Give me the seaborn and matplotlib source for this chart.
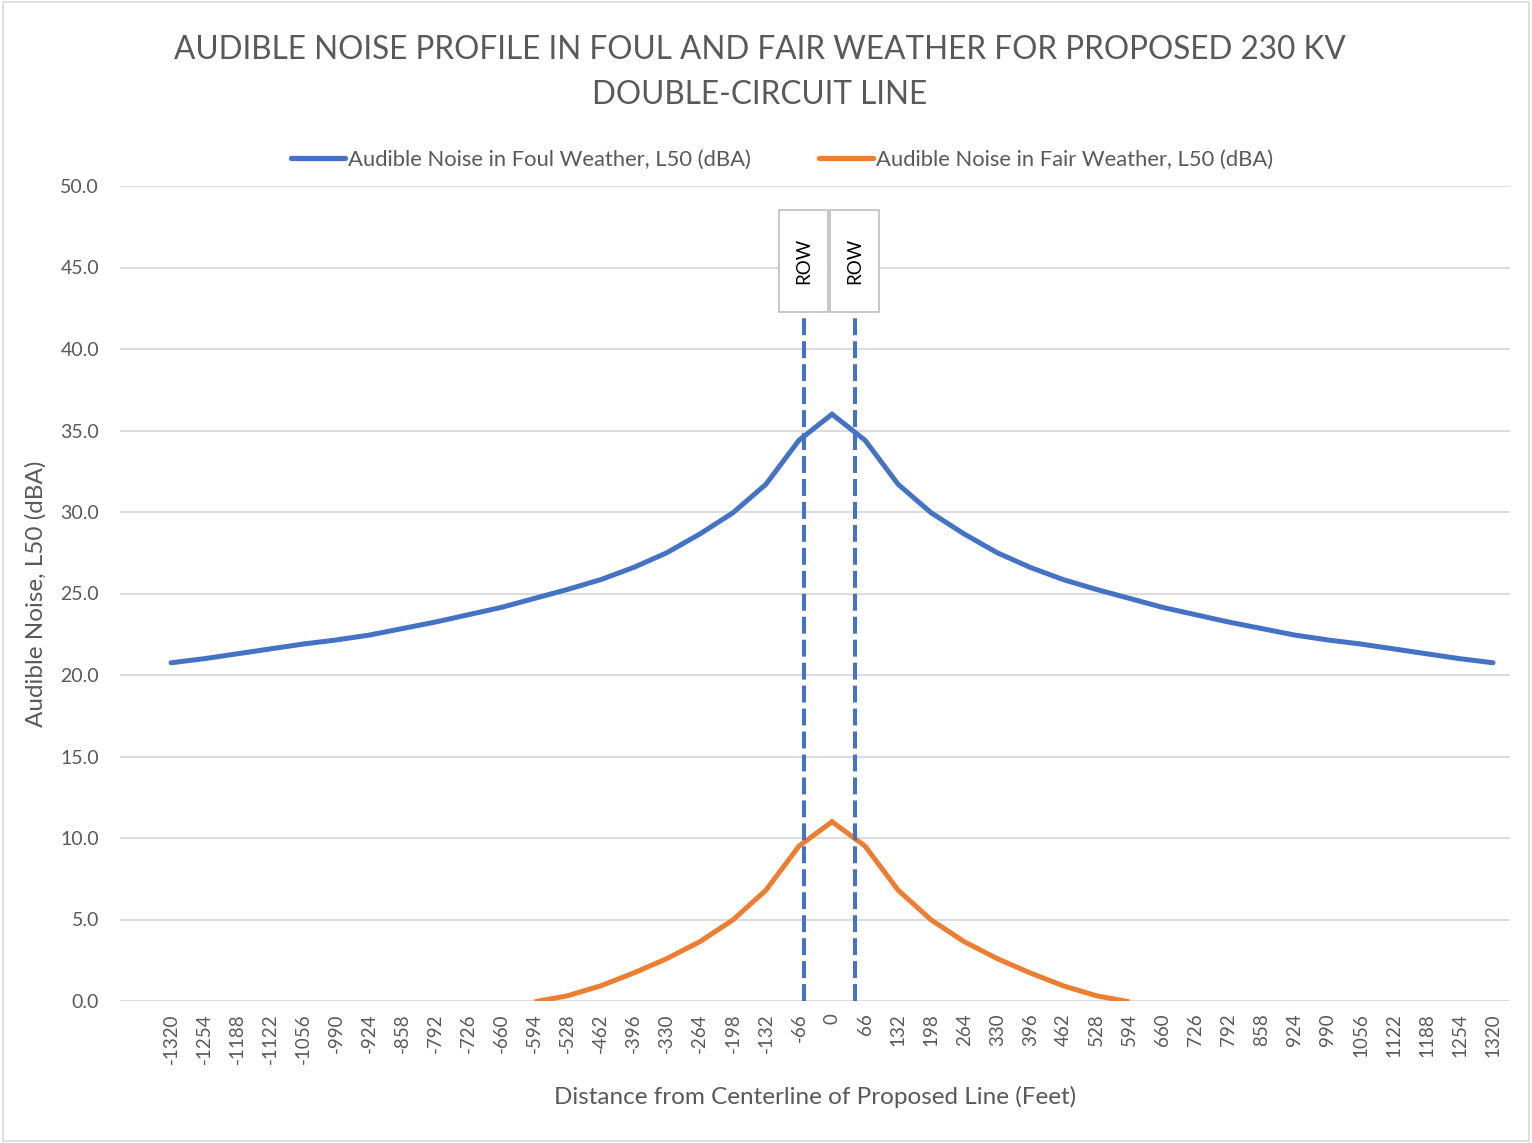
import numpy as np
import pandas as pd
import matplotlib
matplotlib.use("Agg")
import matplotlib.pyplot as plt
from matplotlib.patches import Rectangle
from matplotlib.lines import Line2D
import seaborn as sns

# ---------------- data ----------------
distance_ft = list(range(-1320, 1321, 66))

foul_left = [20.75, 21.0, 21.3, 21.6, 21.9, 22.15, 22.45, 22.85, 23.25, 23.7,
             24.15, 24.7, 25.25, 25.85, 26.6, 27.5, 28.65, 29.95, 31.7, 34.4]
foul_peak = 36.0
foul_weather = foul_left + [foul_peak] + foul_left[::-1]

fair_left = [np.nan] * 11 + [-0.05, 0.32, 0.93, 1.72, 2.6, 3.64, 4.97, 6.8, 9.5]
fair_peak = 11.0
fair_weather = fair_left + [fair_peak] + fair_left[::-1]

row_positions = [-56, 46]
row_labels = ["ROW", "ROW"]

series_names = ["Audible Noise in Foul Weather, L50 (dBA)",
                "Audible Noise in Fair Weather, L50 (dBA)"]
title_lines = ["AUDIBLE NOISE PROFILE IN FOUL AND FAIR WEATHER FOR PROPOSED 230 KV",
               "DOUBLE-CIRCUIT LINE"]
x_label = "Distance from Centerline of Proposed Line (Feet)"
y_label = "Audible Noise, L50 (dBA)"
y_ticks = [0, 5, 10, 15, 20, 25, 30, 35, 40, 45, 50]

# ---------------- style ----------------
sns.set_theme(style="white")
FONT = ["Lato", "DejaVu Sans"]
plt.rcParams["font.family"] = FONT
TXT = "#595959"
BLUE = "#4472C4"
ORANGE = "#ED7D31"
GRID = "#D9D9D9"

fig = plt.figure(figsize=(15.32, 11.43), dpi=100)
ax = fig.add_axes([120 / 1532, 1 - 1001 / 1143, 1390 / 1532, 815 / 1143])

df = pd.DataFrame({"distance": distance_ft, "foul": foul_weather, "fair": fair_weather})

sns.lineplot(data=df, x="distance", y="foul", ax=ax, color=BLUE, linewidth=3.6,
             solid_capstyle="round", solid_joinstyle="miter", zorder=3)
sns.lineplot(data=df.dropna(), x="distance", y="fair", ax=ax, color=ORANGE, linewidth=3.6,
             solid_capstyle="butt", solid_joinstyle="miter", zorder=3)

ax.set_xlim(-1422, 1354)
ax.set_ylim(0, 50)

# ROW lines and boxes
box_bottom, box_top = 42.3, 48.5
for xp, lab in zip(row_positions, row_labels):
    ax.plot([xp, xp], [0, box_bottom], color=BLUE, linewidth=2.9,
            linestyle=(0, (4.2, 1.5)), zorder=4, clip_on=False)
    ax.add_patch(Rectangle((xp - 50, box_bottom), 98, box_top - box_bottom,
                           facecolor="white", edgecolor="#BFBFBF", linewidth=1.2, zorder=5))
    ax.text(xp - 1, (box_bottom + box_top) / 2, lab, rotation=90, ha="center", va="center",
            fontsize=13.5, color="black", zorder=6)

# axes formatting
ax.set_yticks(y_ticks)
ax.set_yticklabels([f"{v:.1f}" for v in y_ticks], fontsize=14, color=TXT)
ax.set_xticks(distance_ft)
ax.set_xticklabels([str(d) for d in distance_ft], rotation=90, fontsize=13.5, color=TXT)
ax.tick_params(axis="y", length=0, pad=15)
ax.tick_params(axis="x", length=0, pad=9)
ax.yaxis.grid(True, color=GRID, linewidth=1.3)
ax.xaxis.grid(False)
for s in ax.spines.values():
    s.set_visible(False)
ax.set_axisbelow(True)

ax.set_xlabel(x_label, fontsize=17.5, color=TXT, labelpad=16)
ax.set_ylabel(y_label, fontsize=17.5, color=TXT, labelpad=10)

# title
fig.text(760 / 1532, 1 - 50 / 1143, title_lines[0], ha="center", va="center",
         fontsize=22.7, color=TXT)
fig.text(760 / 1532, 1 - 95 / 1143, title_lines[1], ha="center", va="center",
         fontsize=22.7, color=TXT)

# legend
handles = [Line2D([0], [0], color=BLUE, linewidth=3.8, solid_capstyle="round"),
           Line2D([0], [0], color=ORANGE, linewidth=3.8, solid_capstyle="round")]
ax.legend(handles, series_names, loc="center", bbox_to_anchor=(0.476, 1 + 26 / 815),
          ncol=2, frameon=False, fontsize=15.8, labelcolor=TXT, handlelength=2.5,
          handletextpad=0.1, columnspacing=3.1)

# outer border
fig.patches.append(Rectangle((0.002, 0.002), 0.996, 0.996, transform=fig.transFigure,
                             fill=False, edgecolor=GRID, linewidth=1.2))

fig.savefig("out.png", dpi=100)
